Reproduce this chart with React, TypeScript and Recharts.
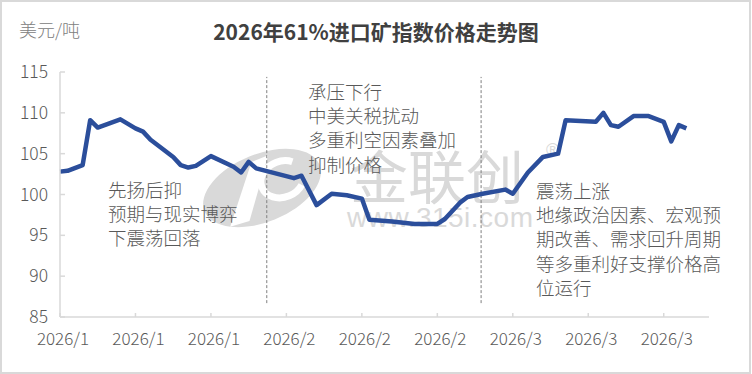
import { LineChart, Line, XAxis, YAxis, ReferenceLine } from "recharts";

const dates = [
  "1/2", "1/3", "1/5", "1/6", "1/7", "1/10", "1/12", "1/13", "1/14", "1/17",
  "1/18", "1/19", "1/20", "1/22", "1/25", "1/26", "1/27", "1/28",
  "2/2", "2/3", "2/5", "2/7", "2/9", "2/11", "2/12", "2/15", "2/18", "2/21",
  "2/22", "2/24", "2/25", "2/27", "3/2", "3/3", "3/5", "3/7", "3/9", "3/10",
  "3/14", "3/15", "3/16", "3/17", "3/19", "3/21", "3/23", "3/24", "3/25", "3/26",
];

const prices = [
  102.8, 102.9, 103.6, 109.1, 108.2, 109.2, 108.1, 107.7, 106.7, 104.6,
  103.6, 103.3, 103.5, 104.7, 103.4, 102.7, 104.0, 103.2,
  102.0, 102.3, 98.7, 100.1, 99.9, 99.5, 96.9, 96.7, 96.4, 96.4,
  97.0, 99.0, 99.7, 100.1, 100.6, 100.1, 102.7, 104.6, 105.0, 109.1,
  108.9, 110.0, 108.5, 108.3, 109.6, 109.6, 108.9, 106.5, 108.5, 108.1,
];

const tickLabels = [
  "2026/1", "2026/1", "2026/1", "2026/2", "2026/2", "2026/2", "2026/3", "2026/3", "2026/3",
];
const yTicks = [85, 90, 95, 100, 105, 110, 115];

// phase boundaries, in days from axis start
const phaseBreaks = [27.4, 55.8];

const notes = [
  { left: 108, top: 177, lines: ["先扬后抑", "预期与现实博弈", "下震荡回落"] },
  { left: 308, top: 79, lines: ["承压下行", "中美关税扰动", "多重利空因素叠加", "抑制价格"] },
  {
    left: 536,
    top: 178,
    lines: ["震荡上涨", "地缘政治因素、宏观预", "期改善、需求回升周期", "等多重利好支撑价格高", "位运行"],
  },
];

const START = Date.UTC(2026, 0, 2);
const toDay = (md: string) => {
  const [m, d] = md.split("/").map(Number);
  return (Date.UTC(2026, m - 1, d) - START) / 86400000;
};

const data = dates.map((d, i) => ({ day: toDay(d), price: prices[i] }));
const xTicks = tickLabels.map((_, i) => i * 10);

const FONT = '"Noto Sans CJK SC", "Liberation Sans", sans-serif';
const GRID = "#d9d9d9";
const TEXT = "#595959";

const YTick = (props: any) => {
  const { x, y, payload } = props;
  return (
    <g>
      <line x1={x} x2={x + 5} y1={y} y2={y} stroke={GRID} strokeWidth={1.5} />
      <text x={x - 12} y={y} dy={6} textAnchor="end" fill={TEXT} fontSize={17.5} fontWeight={300} fontFamily={FONT}>
        {payload.value}
      </text>
    </g>
  );
};

const XTick = (props: any) => {
  const { x, y, payload, index } = props;
  return (
    <g>
      <line x1={x} x2={x} y1={y} y2={y - 4} stroke={GRID} strokeWidth={1.5} />
      <text x={x + 3} y={y} dy={28} textAnchor="middle" fill={TEXT} fontSize={17} fontWeight={300} fontFamily={FONT}>
        {tickLabels[index] ?? payload.value}
      </text>
    </g>
  );
};

function Watermark() {
  return (
    <svg width={752} height={374} style={{ position: "absolute", left: 0, top: 0 }}>
      <g transform="rotate(-22 262 188)">
        <ellipse cx={262} cy={188} rx={62} ry={34} fill="#d9d9d9" />
        <path d="M218 212 L262 160 L280 160 L238 214 Z" fill="#fff" />
        <path d="M300 175 A22 18 0 1 0 300 200" fill="none" stroke="#fff" strokeWidth={7} />
      </g>
      <text x={350} y={199} fontSize={58} fill="#d9d9d9" fontFamily={FONT}>
        金联创
      </text>
      <text x={347} y={227} fontSize={28} fill="#d9d9d9" fontFamily='"Liberation Sans", sans-serif' textLength={186}>
        www.315i.com
      </text>
      <text x={546} y={156} fontSize={18} fill="#d9d9d9" fontFamily='"Liberation Sans", sans-serif'>
        ®
      </text>
    </svg>
  );
}

export default function App() {
  return (
    <div
      style={{
        position: "fixed",
        left: 0,
        top: 0,
        width: 752,
        height: 374,
        background: "#fff",
        fontFamily: FONT,
      }}
    >
      <Watermark />
      <div style={{ position: "absolute", left: 0, top: 0 }}>
        <LineChart width={752} height={374} data={data} margin={{ top: 72, right: 43, bottom: 0, left: 0 }}>
          <XAxis
            dataKey="day"
            type="number"
            domain={[0, 86]}
            ticks={xTicks}
            interval={0}
            height={57}
            tickSize={0}
            tickMargin={0}
            tickLine={false}
            axisLine={{ stroke: GRID, strokeWidth: 1.5 }}
            tick={<XTick />}
          />
          <YAxis
            domain={[85, 115]}
            ticks={yTicks}
            width={60}
            tickSize={0}
            tickMargin={0}
            tickLine={false}
            axisLine={{ stroke: GRID, strokeWidth: 1.5 }}
            tick={<YTick />}
          />
          {phaseBreaks.map((d) => (
            <ReferenceLine
              key={d}
              segment={[
                { x: d, y: 86.7 },
                { x: d, y: 114.4 },
              ]}
              stroke="#7f7f7f"
              strokeDasharray="3 2"
              strokeWidth={1}
            />
          ))}
          <Line
            type="linear"
            dataKey="price"
            stroke="#2b4e9b"
            strokeWidth={4.5}
            strokeLinejoin="round"
            dot={false}
            activeDot={false}
            isAnimationActive={false}
          />
        </LineChart>
      </div>
      <div
        style={{
          position: "absolute",
          left: 0,
          top: 16,
          width: 752,
          textAlign: "center",
          fontSize: 21,
          lineHeight: "30px",
          fontWeight: "bold",
          color: "#404040",
        }}
      >
        2026年61%进口矿指数价格走势图
      </div>
      <div
        style={{
          position: "absolute",
          left: 19,
          top: 16,
          fontSize: 18,
          lineHeight: "26px",
          fontWeight: 300,
          color: "#808080",
        }}
      >
        美元/吨
      </div>
      {notes.map((n, i) => (
        <div
          key={i}
          style={{
            position: "absolute",
            left: n.left,
            top: n.top,
            fontSize: 18.5,
            lineHeight: "24.2px",
            fontWeight: 300,
            color: TEXT,
            whiteSpace: "nowrap",
          }}
        >
          {n.lines.map((l) => (
            <div key={l}>{l}</div>
          ))}
        </div>
      ))}
      <div
        style={{
          position: "absolute",
          left: 0,
          top: 0,
          width: 751,
          height: 374,
          boxSizing: "border-box",
          border: "2px solid #d9d9d9",
          pointerEvents: "none",
        }}
      />
    </div>
  );
}
